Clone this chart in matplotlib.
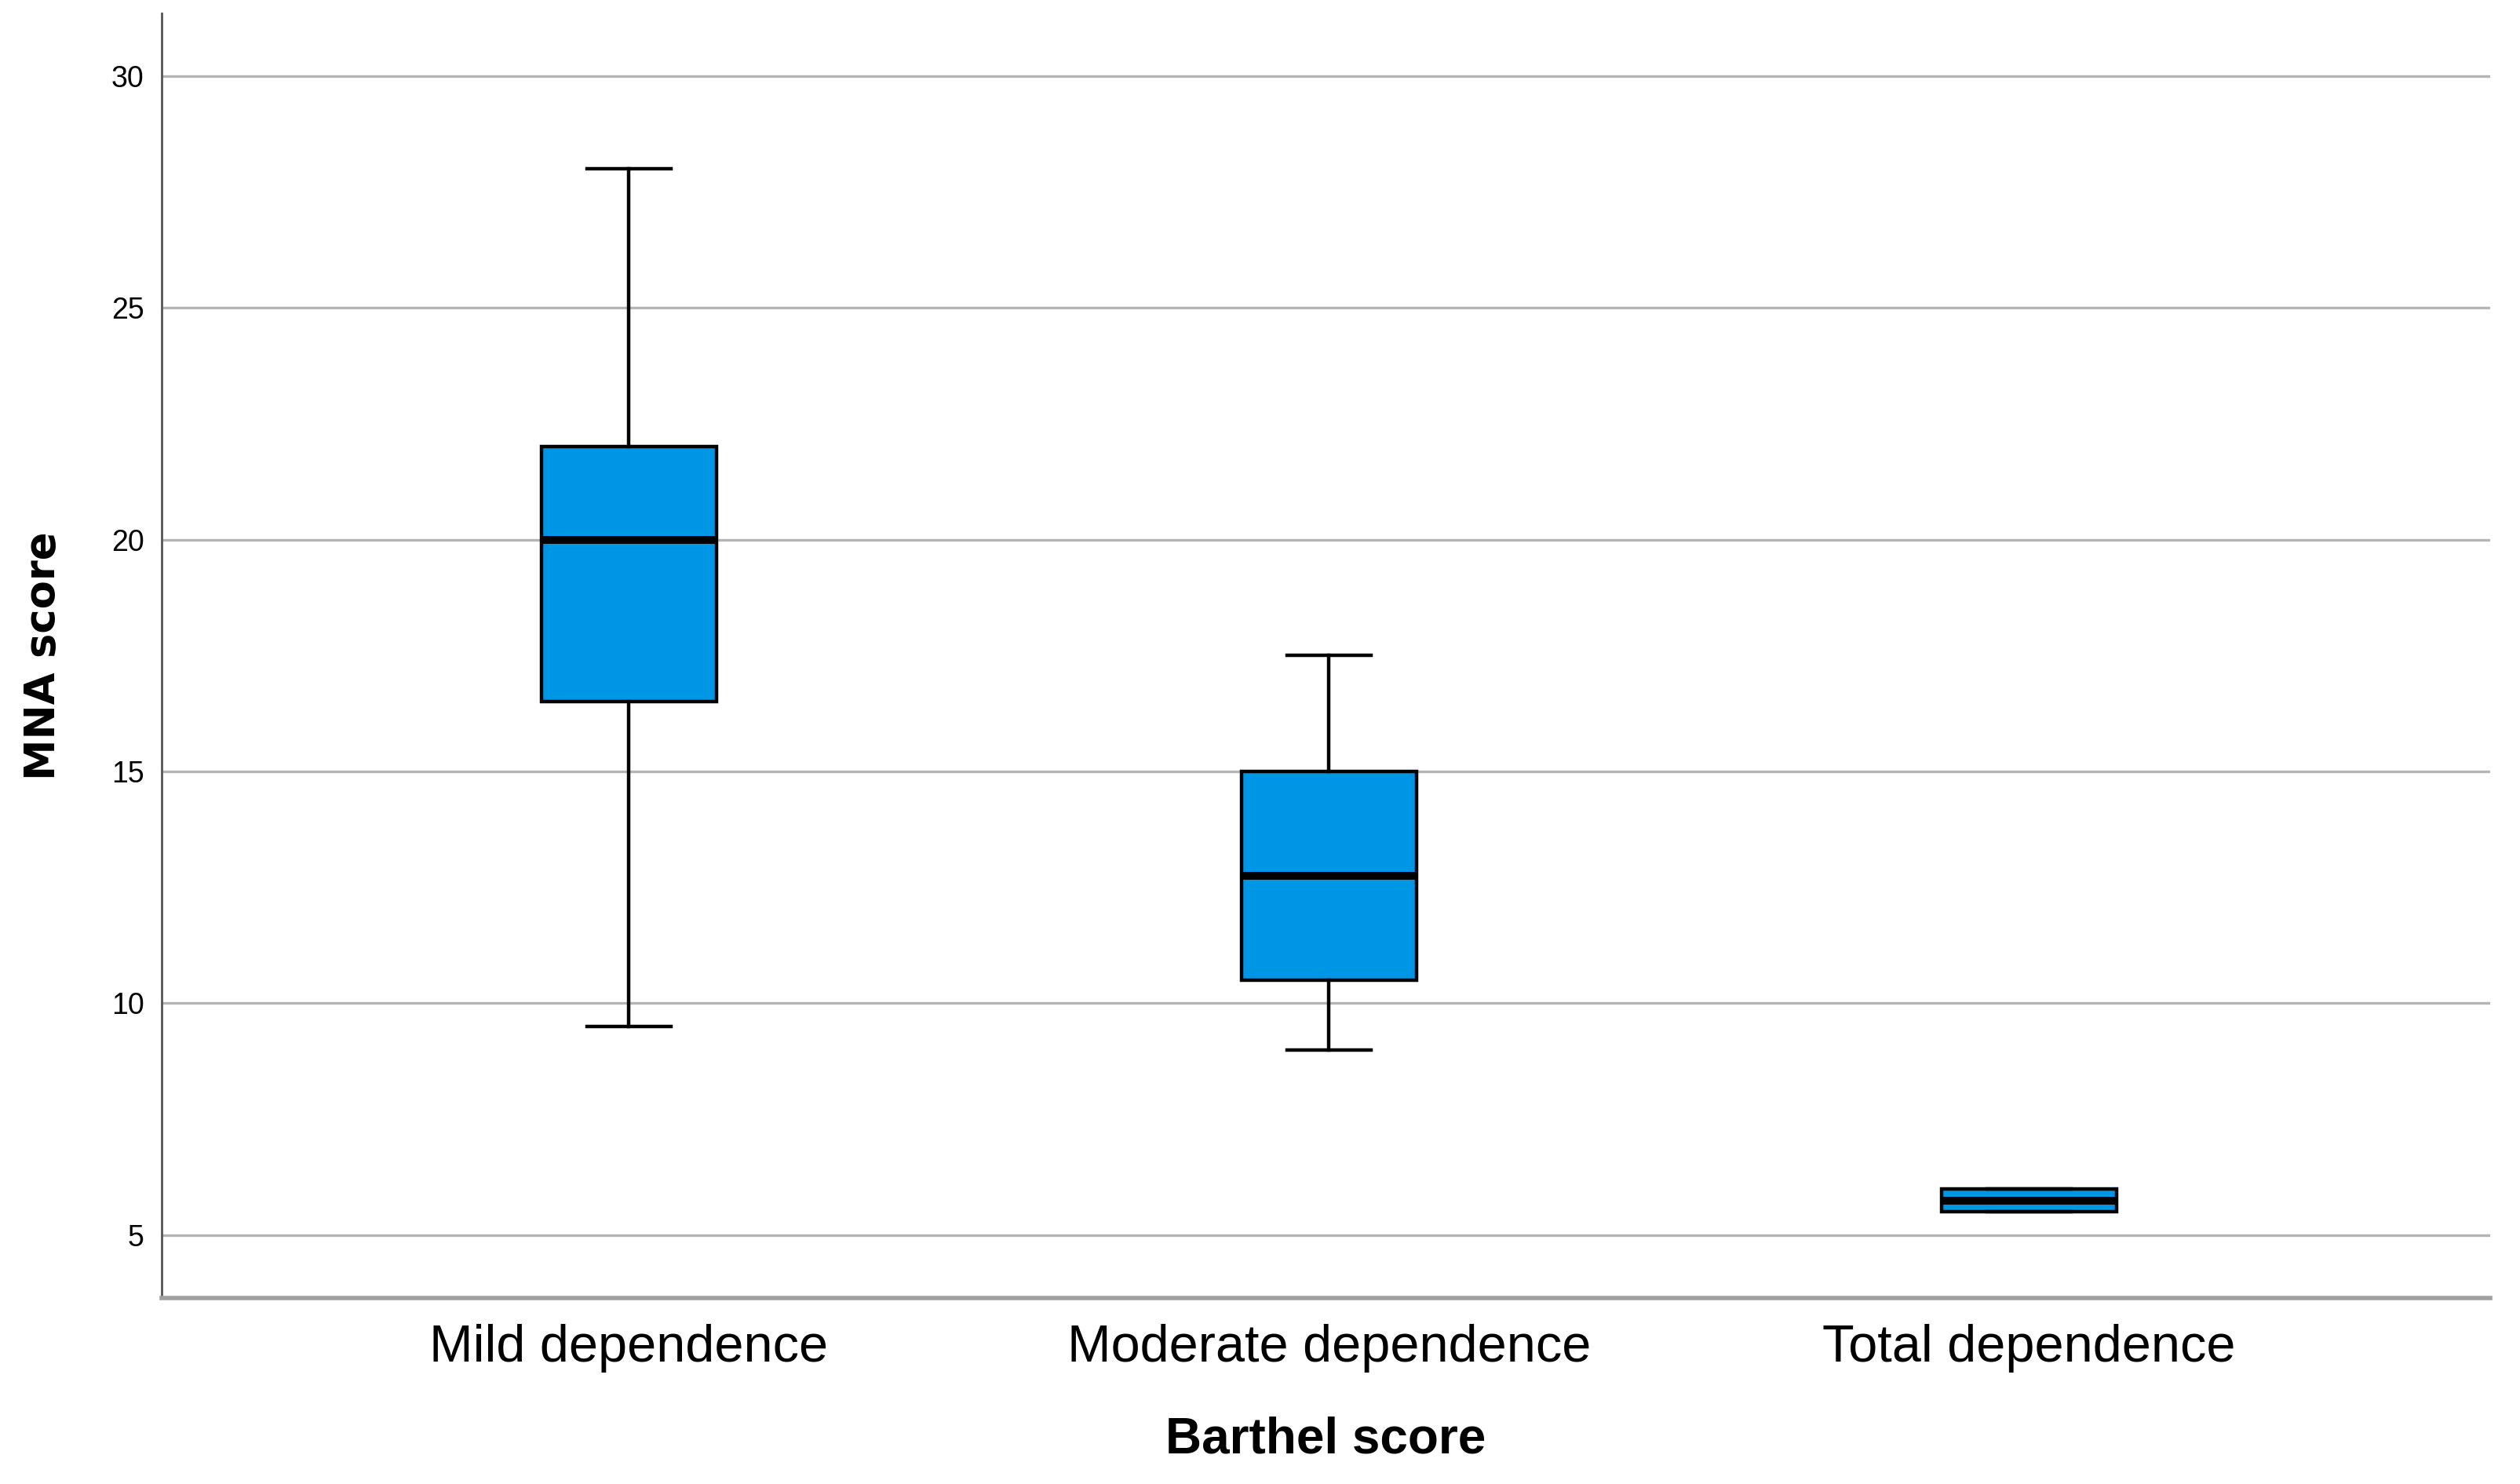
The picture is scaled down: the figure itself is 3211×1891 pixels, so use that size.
import matplotlib
matplotlib.use("Agg")
import matplotlib.pyplot as plt
from matplotlib import font_manager

categories = ["Mild dependence", "Moderate dependence", "Total dependence"]
whisker_low = [9.5, 9.0, 5.5]
q1 = [16.5, 10.5, 5.5]
median = [20.0, 12.75, 5.75]
q3 = [22.0, 15.0, 6.0]
whisker_high = [28.0, 17.5, 6.0]
y_ticks = [5, 10, 15, 20, 25, 30]

names = {f.name for f in font_manager.fontManager.ttflist}
fam = ["Liberation Sans Narrow", "DejaVu Sans"] if "Liberation Sans Narrow" in names else ["Liberation Sans", "DejaVu Sans"]
plt.rcParams['font.family'] = fam

fig = plt.figure(figsize=(16.06, 9.455), dpi=200)
ax = fig.add_axes([0.0641, 0.1255, 0.9237, 0.8655])

stats = []
for i, c in enumerate(categories):
    stats.append(dict(label=c, whislo=whisker_low[i], q1=q1[i], med=median[i],
                      q3=q3[i], whishi=whisker_high[i], fliers=[]))

bp = ax.bxp(stats, positions=range(len(categories)), widths=0.25, patch_artist=True,
            showfliers=False,
            boxprops=dict(facecolor="#0096E6", edgecolor="black", linewidth=1.6),
            medianprops=dict(color="black", linewidth=3.6),
            whiskerprops=dict(color="black", linewidth=1.6),
            capprops=dict(color="black", linewidth=1.6),
            capwidths=0.12, zorder=3)

ax.set_xlim(-0.667, 2.658)
ax.set_ylim(3.65, 31.35)
ax.set_yticks(y_ticks)
ax.set_yticklabels([str(t) for t in y_ticks], fontsize=13.5)
ax.set_xticks(range(len(categories)))
ax.set_xticklabels(categories, fontsize=24)
ax.tick_params(axis='both', length=0)
ax.tick_params(axis='y', pad=8)
ax.tick_params(axis='x', pad=12)
ax.yaxis.grid(True, color="#b4b4b4", linewidth=1.2, zorder=0)
ax.set_axisbelow(True)
for s in ["top", "right"]:
    ax.spines[s].set_visible(False)
ax.spines["left"].set_color("#555555")
ax.spines["left"].set_linewidth(1.0)
ax.spines["bottom"].set_color("#a0a0a0")
ax.spines["bottom"].set_linewidth(2.0)

ax.set_xlabel("Barthel score", fontsize=23, fontweight="bold", labelpad=20)
ax.set_ylabel("MNA score", fontsize=19, fontweight="bold", labelpad=22,
              family=["DejaVu Sans"])

fig.savefig("out.png", dpi=200, facecolor="white")
